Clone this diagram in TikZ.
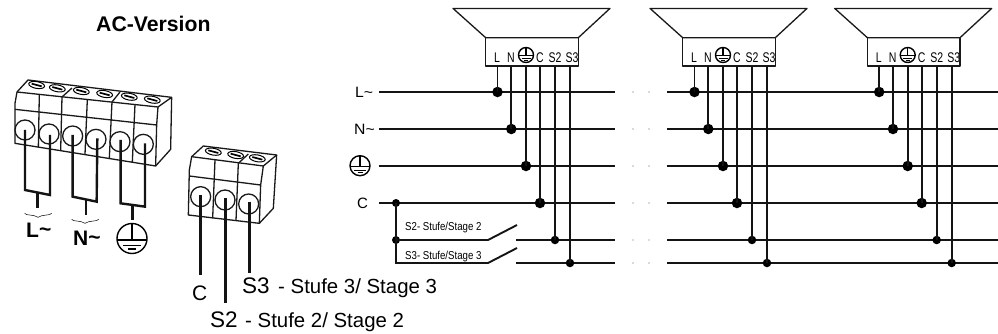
\documentclass[tikz,border=0pt]{standalone}
\usepackage{fontspec}
\setmainfont{Liberation Sans}
\newcommand{\fsz}[1]{\fontsize{#1}{#1}\selectfont}
\newcommand{\nar}[2]{\scalebox{#1}[1]{#2}}
\tikzset{
  wire/.style={line width=1.9pt,black!92},
  thick wire/.style={line width=2.4pt,black!92},
  outline/.style={line width=1.3pt,black!90,line join=round},
  junction/.style={circle,fill=black,inner sep=0pt,minimum size=#1},
  lbl/.style={inner sep=0pt,anchor=base west},
  clbl/.style={inner sep=0pt,anchor=base},
  gap dot/.style={circle,fill=black!60,inner sep=0pt,minimum size=1.3pt},
  pics/earth/.style={code={
    \draw[line width=1.4pt] (0,0) circle[radius=10pt];
    \draw[line width=1.4pt] (0,-10) -- (0,1);
    \draw[line width=1.4pt] (-10,1) -- (10,1);
    \draw[line width=1.4pt] (-6,4.5) -- (6,4.5);
    \draw[line width=1.4pt] (-2.5,7) -- (2.5,7);
  }},
  pics/screw/.style={code={
    \draw[line width=1pt,rotate=-10] (0,0) ellipse[x radius=8pt,y radius=3.4pt];
    \draw[line width=1.7pt] (-15,-4) -- (15,4);
  }}
}
\begin{document}
\begin{tikzpicture}[x=1pt,y=-1pt]
\useasboundingbox (0,0) rectangle (998,333);
\fill[white] (0,0) rectangle (998,333);

\node[lbl,font=\bfseries\fsz{21.2}] (title) at (96,31) {AC-Version};

% ---------- left terminal block (coordinates at 3x) ----------
\begin{scope}[shift={(0,60)},x=0.3333pt,y=-0.3333pt]
  \draw[outline] (51,96) -- (84,60) -- (515,112) -- (512,268) -- (467,318) -- (45,250) -- (45,130) -- cycle;
  \draw[outline] (51,96) -- (474,141) -- (515,112);
  \draw[outline] (45,148) -- (470,195);
  \draw[outline] (474,141) -- (470,195) -- (467,318);
  \draw[outline] (186,111) -- (216,84);
  \draw[outline] (336,126) -- (360,96);
  \draw[outline] (118,104) -- (115,262);
  \draw[outline] (186,111) -- (182,272);
  \draw[outline] (262,119) -- (255,283);
  \draw[outline] (336,126) -- (328,295);
  \draw[outline] (405,134) -- (397,306);
  \foreach \x/\y in {110/75,172/85,244/93,314/102,388/110,457/119}
    \pic at (\x,\y) {screw};
  \foreach \x/\y in {75/210,147/222,218/228,288/238,360/245,430/253}
    \draw[outline,fill=white] (\x,\y) circle[radius=10pt];
  \draw[thick wire] (75,210) -- (75,390) -- (150,405) -- (150,225);
  \draw[thick wire] (112,398) -- (112,445);
  \draw[thick wire] (218,225) -- (218,410) -- (290,425) -- (292,235);
  \draw[thick wire] (258,418) -- (258,465);
  \draw[thick wire] (362,240) -- (362,430) -- (435,440) -- (435,250);
  \draw[thick wire] (398,435) -- (398,480);
  \draw[line width=0.5pt] (74,460) .. controls (78,468) and (100,462) .. (114,472) .. controls (128,462) and (150,468) .. (155,460);
  \draw[line width=0.5pt] (215,478) .. controls (219,486) and (241,480) .. (255,490) .. controls (269,480) and (291,486) .. (296,478);
\end{scope}
\node[lbl,font=\bfseries\fsz{21}] (leftL) at (26,237) {L\raisebox{1pt}{\textasciitilde}};
\node[lbl,font=\bfseries\fsz{21}] (leftN) at (73,245) {N\raisebox{1pt}{\textasciitilde}};
\pic[scale=1.5] at (132,238.5) {earth};

% ---------- second terminal block ----------
\begin{scope}[shift={(170,130)},x=0.3333pt,y=-0.3333pt]
  \draw[outline] (65,80) -- (100,48) -- (320,75) -- (310,235) -- (268,280) -- (55,255) -- (58,120) -- cycle;
  \draw[outline] (65,80) -- (280,108) -- (320,75);
  \draw[outline] (205,100) -- (235,72);
  \draw[outline] (58,138) -- (272,165);
  \draw[outline] (280,108) -- (272,165) -- (268,280);
  \draw[outline] (135,90) -- (128,265);
  \draw[outline] (205,100) -- (198,272);
  \foreach \x/\y in {130/65,197/75,262/85}
    \pic at (\x,\y) {screw};
  \foreach \x/\y in {92/200,165/210,236/222}
    \draw[outline,fill=white] (\x,\y) circle[radius=10pt];
  \draw[thick wire] (92,195) -- (92,435);
  \draw[thick wire] (167,205) -- (167,520);
  \draw[thick wire] (238,215) -- (238,430);
\end{scope}
\node[lbl,font=\fsz{21}] (blockC) at (192,300) {C};
\node[lbl,font=\fsz{22.5}] (blockS3) at (242,293) {S3};
\node[lbl,font=\fsz{20.4}] (blockS3t) at (278,293) {- Stufe 3/ Stage 3};
\node[lbl,font=\fsz{22.5}] (blockS2) at (210,327) {S2};
\node[lbl,font=\fsz{20.4}] (blockS2t) at (245,327) {- Stufe 2/ Stage 2};

% ---------- bus labels ----------
\node[lbl,font=\fsz{15}] (busLt) at (355,97) {\nar{1.05}{L\textasciitilde}};
\node[lbl,font=\fsz{15}] (busNt) at (354,134) {\nar{1.05}{N\textasciitilde}};
\pic at (360,165.7) {earth};
\node[lbl,font=\fsz{15}] (busCt) at (357,208) {C};

% ---------- bus lines ----------
\foreach \n/\y in {L/92,N/129,E/166,C/203,Two/240,Three/263}{
  \coordinate (a\n) at (379,\y);
  \coordinate (b\n) at (615,\y);
  \coordinate (c\n) at (667,\y);
  \coordinate (d\n) at (998,\y);
  \node[gap dot] (p\n) at (633,\y) {};
  \node[gap dot] (q\n) at (649,\y) {};
  \draw[wire] (c\n) -- (d\n);
}
\foreach \n in {L,N,E,C} \draw[wire] (a\n) -- (b\n);

% switches
\node[junction=8pt] (cj) at (396,203) {};
\node[junction=8pt] (sj) at (396,240) {};
\coordinate (s3corner) at (396,263);
\coordinate (sw2a) at (488,240);
\coordinate (sw2b) at (517,225);
\coordinate (sw3a) at (488,263);
\coordinate (sw3b) at (517,248);
\coordinate (r2) at (516,240);
\coordinate (r3) at (516,263);
\draw[wire] (cj.center) -- (s3corner) -- (sw3a) -- (sw3b);
\draw[wire] (sj.center) -- (sw2a) -- (sw2b);
\draw[wire] (r2) -- (bTwo);
\draw[wire] (r3) -- (bThree);
\node[lbl,font=\fsz{11.5}] (sw2t) at (405,230) {\nar{0.84}{S2- Stufe/Stage 2}};
\node[lbl,font=\fsz{11.5}] (sw3t) at (405,259) {\nar{0.84}{S3- Stufe/Stage 3}};

% ---------- speakers ----------
\foreach \i/\o in {1/0,2/197,3/381.7}{
  \begin{scope}[shift={(\o,0)}]
    \node[clbl,font=\fsz{14}] (tL\i) at (497,62.7) {\nar{0.75}{L}};
    \node[clbl,font=\fsz{14}] (tN\i) at (511,62.7) {\nar{0.75}{N}};
    \pic[scale=0.75] at (526,55) {earth};
    \node[clbl,font=\fsz{14}] (tC\i) at (540,62.7) {\nar{0.75}{C}};
    \node[clbl,font=\fsz{14}] (tA\i) at (555,62.7) {\nar{0.75}{S2}};
    \node[clbl,font=\fsz{14}] (tB\i) at (572,62.7) {\nar{0.75}{S3}};
    \draw[outline] (453,8.4) -- (610,8.4) -- (578.3,37.7) -- (485.7,37.7) -- cycle;
    \draw[outline] (485.7,37.7) rectangle (578.3,66);
    \foreach \n/\x/\y/\d in {vL/497.5/92/10.5pt,vN/511.3/129/10.5pt,vE/526/166/10.5pt,vC/540/203/10.5pt,vA/555/240/8.5pt,vB/570/263/8.5pt}{
      \coordinate (\n\i) at (\x,66);
      \node[junction=\d] (\n j\i) at (\x,\y) {};
      \draw[wire] (\n\i) -- (\n j\i.center);
    }
  \end{scope}
}
\end{tikzpicture}
\end{document}
